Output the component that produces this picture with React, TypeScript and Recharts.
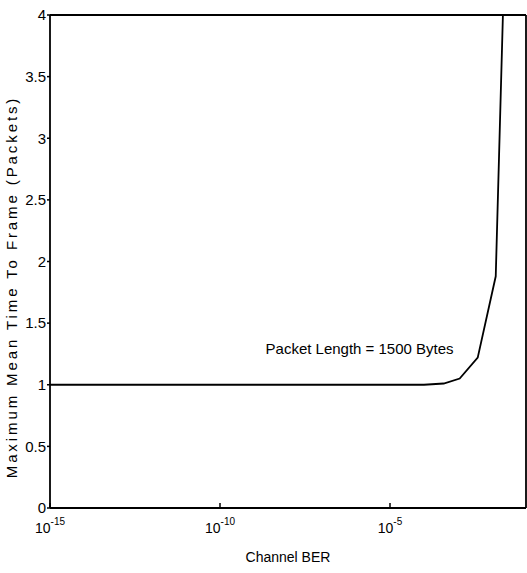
import React from "react";
import { LineChart, Line, XAxis, YAxis, ReferenceDot } from "recharts";

// channel BER as powers of ten, and the curve
const berExponents = [-15, -10, -5, -4, -3.42, -2.95, -2.42, -1.89, -1.4];
const maxMeanTimeToFrame = [1, 1, 1, 1, 1.01, 1.05, 1.22, 1.88, 6.8];

const xTickExponents = [-15, -10, -5];
const yTicks = [0, 0.5, 1, 1.5, 2, 2.5, 3, 3.5, 4];

const xLabel = "Channel BER";
const yLabel = "Maximum Mean Time To Frame (Packets)";
const note = "Packet Length = 1500 Bytes";

const data = berExponents.map((e, i) => ({
  ber: Math.pow(10, e),
  mttf: maxMeanTimeToFrame[i],
}));
const xTicks = xTickExponents.map((e) => Math.pow(10, e));

const FONT = "'Liberation Sans', Arial, Helvetica, sans-serif";
const axisStroke = { stroke: "#000", strokeWidth: 1.8 };

function BerTick(props: any) {
  const { x, y, payload } = props;
  const exp = Math.round(Math.log10(payload.value));
  return (
    <g>
      <line x1={x} x2={x} y1={y} y2={y - 5} stroke="#000" strokeWidth={1.5} />
      <text
        x={x}
        y={y + 25}
        textAnchor="middle"
        fontSize={14}
        fontFamily={FONT}
        fill="#000"
      >
        <tspan>10</tspan>
        <tspan dy={-8} fontSize={10}>
          {exp}
        </tspan>
      </text>
    </g>
  );
}

function XTitle(props: any) {
  const vb = props.viewBox;
  return (
    <text
      x={vb.x + vb.width / 2}
      y={562}
      textAnchor="middle"
      fontSize={14}
      fontFamily={FONT}
      fill="#000"
    >
      {xLabel}
    </text>
  );
}

function YTitle() {
  return (
    <text
      transform="rotate(-90)"
      x={-287}
      y={17}
      textAnchor="middle"
      fontSize={15}
      fontFamily={FONT}
      fill="#000"
      style={{ letterSpacing: 2.9 }}
    >
      {yLabel}
    </text>
  );
}

function NoteLabel(props: any) {
  const vb = props.viewBox;
  return (
    <text
      x={vb.x}
      y={vb.y}
      textAnchor="end"
      fontSize={15}
      fontFamily={FONT}
      fill="#000"
    >
      {note}
    </text>
  );
}

export default function App() {
  return (
    <div style={{ position: "absolute", left: 0, top: 0, background: "#fff" }}>
      <LineChart
        width={527}
        height={573}
        data={data}
        margin={{ top: 15, right: 1, left: 0, bottom: 0 }}
      >
        <XAxis
          xAxisId="bottom"
          dataKey="ber"
          type="number"
          scale="log"
          domain={[1e-15, 1e-1]}
          allowDataOverflow
          ticks={xTicks}
          height={65}
          tickSize={0}
          tickMargin={0}
          tickLine={false}
          axisLine={axisStroke}
          tick={<BerTick />}
          label={<XTitle />}
        />
        <XAxis
          xAxisId="top"
          orientation="top"
          dataKey="ber"
          type="number"
          scale="log"
          domain={[1e-15, 1e-1]}
          allowDataOverflow
          ticks={xTicks}
          height={1}
          mirror
          tickSize={4}
          tick={false}
          tickLine={{ stroke: "#000", strokeWidth: 1.5 }}
          axisLine={axisStroke}
        />
        <YAxis
          yAxisId="left"
          type="number"
          domain={[0, 4]}
          allowDataOverflow
          ticks={yTicks}
          width={50}
          tickSize={3}
          tickMargin={1}
          axisLine={axisStroke}
          tickLine={{ stroke: "#000", strokeWidth: 1.5 }}
          tick={{ fill: "#000", fontSize: 15, fontFamily: FONT }}
          tickFormatter={(v: number) => String(v)}
          label={<YTitle />}
        />
        <YAxis
          yAxisId="right"
          orientation="right"
          type="number"
          domain={[0, 4]}
          allowDataOverflow
          ticks={yTicks}
          width={1}
          mirror
          tickSize={5}
          tick={false}
          tickLine={{ stroke: "#000", strokeWidth: 1.5 }}
          axisLine={axisStroke}
        />
        <Line
          xAxisId="bottom"
          yAxisId="left"
          type="linear"
          dataKey="mttf"
          stroke="#000"
          strokeWidth={1.8}
          dot={false}
          isAnimationActive={false}
        />
        <ReferenceDot
          xAxisId="bottom"
          yAxisId="left"
          x={Math.pow(10, -3.1)}
          y={1.24}
          r={1}
          fill="none"
          stroke="none"
          ifOverflow="visible"
          label={<NoteLabel />}
        />
      </LineChart>
    </div>
  );
}
